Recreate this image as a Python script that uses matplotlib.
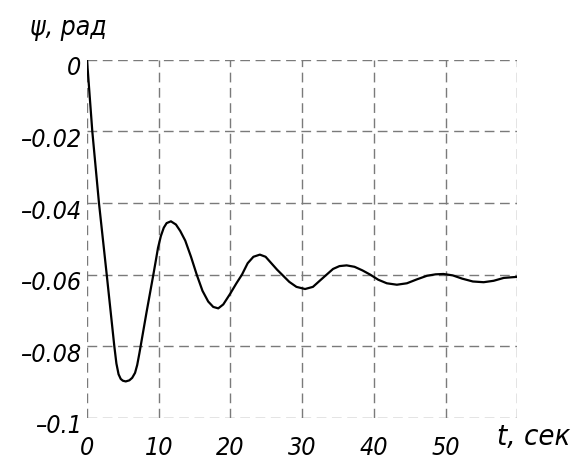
import numpy as np
import matplotlib
matplotlib.use("Agg")
import matplotlib.pyplot as plt
import matplotlib.transforms as mtransforms

# ==========================================================
# Data
# ==========================================================

t_sec = [
    0, 0.74, 1.67, 2.75, 3.81, 4.1, 4.4, 4.7, 5.0, 5.4, 5.9, 6.3, 6.7,
    7.0, 7.3, 8.3, 9.25, 9.6, 9.9, 10.3, 10.7, 11.1, 11.7, 12.4, 13.0,
    13.7, 14.5, 15.3, 16.1, 16.9, 17.6, 18.3, 19.0, 20.0, 20.8, 21.6,
    22.4, 23.2, 24.1, 24.9, 25.7, 26.5, 27.2, 28.2, 29.2, 30.4, 31.5,
    32.5, 33.4, 34.3, 35.2, 36.2, 37.3, 38.4, 39.5, 40.6, 41.8, 43.2,
    44.6, 46.0, 47.4, 48.6, 49.7, 51.0, 52.3, 53.8, 55.3, 56.7, 58.1,
    60.0,
]

psi_rad = [
    0.0, -0.020, -0.040, -0.060, -0.080, -0.0848, -0.0878, -0.0891,
    -0.0896, -0.0898, -0.0895, -0.0888, -0.0874, -0.0852, -0.0820,
    -0.0705, -0.0600, -0.0560, -0.0525, -0.0492, -0.0469, -0.0456,
    -0.0451, -0.0460, -0.0478, -0.0505, -0.0550, -0.0600, -0.0645,
    -0.0675, -0.0690, -0.0694, -0.0683, -0.0652, -0.0625, -0.0600,
    -0.0568, -0.0550, -0.0544, -0.0550, -0.0568, -0.0586, -0.0600,
    -0.0620, -0.0634, -0.0640, -0.0634, -0.0616, -0.0600, -0.0584,
    -0.0576, -0.0574, -0.0578, -0.0588, -0.0600, -0.0614, -0.0624,
    -0.0628, -0.0624, -0.0613, -0.0603, -0.0599, -0.0598, -0.0602,
    -0.0611, -0.0619, -0.0621, -0.0617, -0.0609, -0.0606,
]

x_ticks = [0, 10, 20, 30, 40, 50]
x_tick_labels = ["0", "10", "20", "30", "40", "50"]
y_ticks = [0, -0.02, -0.04, -0.06, -0.08, -0.1]
y_tick_labels = ["0", "\u20130.02", "\u20130.04", "\u20130.06", "\u20130.08", "\u20130.1"]

# ==========================================================
# Style
# ==========================================================

plt.rcParams["font.family"] = ["DejaVu Sans"]
plt.rcParams["font.style"] = "italic"
plt.rcParams["font.stretch"] = "condensed"

GRID_COLOR = "#7a7a7a"

fig = plt.figure(figsize=(5.8, 4.67), dpi=100)
ax = fig.add_axes([0.15, 0.105, 0.742, 0.767])

ax.plot(t_sec, psi_rad, color="black", linewidth=1.6, zorder=3,
        solid_joinstyle="round")

ax.set_xlim(0, 60)
ax.set_ylim(-0.1, 0)

# dashed grid, including the frame
for xv in list(x_ticks) + [60]:
    ax.axvline(xv, color=GRID_COLOR, linestyle=(0, (7, 4)), linewidth=1.0, zorder=1)
for yv in y_ticks:
    ax.axhline(yv, color=GRID_COLOR, linestyle=(0, (7, 4)), linewidth=1.0, zorder=1)

for spine in ax.spines.values():
    spine.set_visible(False)

ax.set_xticks(x_ticks)
ax.set_xticklabels(x_tick_labels, fontsize=18)
ax.set_yticks(y_ticks)
ax.set_yticklabels(y_tick_labels, fontsize=18)
ax.tick_params(length=0, pad=4)
ax.tick_params(axis="x", pad=13)

# y labels sit a little below their grid lines
shift = mtransforms.ScaledTranslation(0, -6 / 100, fig.dpi_scale_trans)
for lbl in ax.get_yticklabels():
    lbl.set_transform(lbl.get_transform() + shift)

fig.text(30 / 580, 1 - 28 / 467, "\u03c8, рад", fontsize=19, ha="left", va="center")
fig.text(497 / 580, 1 - 437 / 467, "t, сек", fontsize=21, ha="left", va="center")

fig.savefig("out.png", dpi=100)
